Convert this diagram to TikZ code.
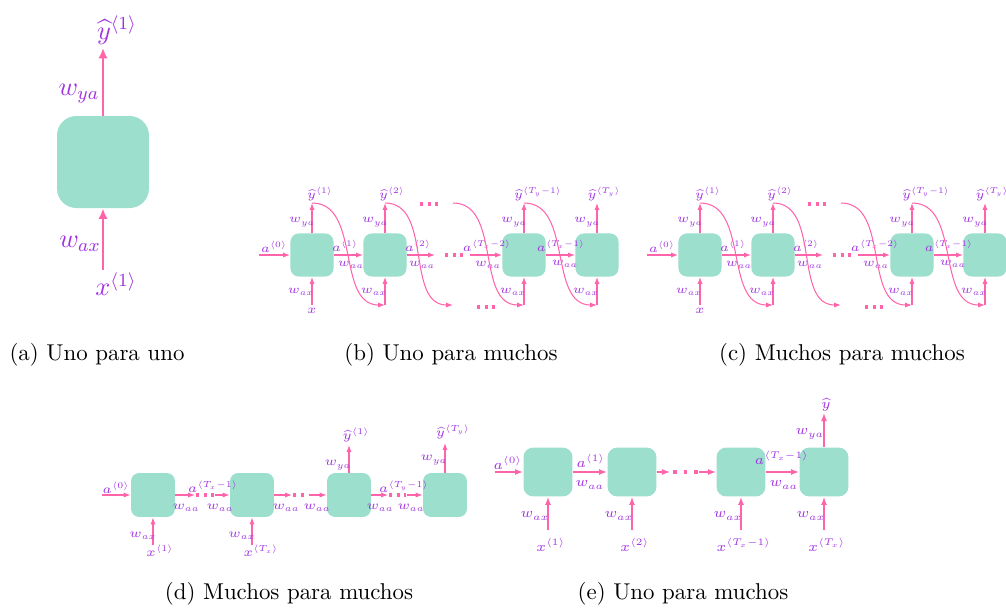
\documentclass[tikz,border=0pt]{standalone}
\usepackage{fix-cm}
\usepackage{amsmath}
\usetikzlibrary{arrows.meta}
\definecolor{celda}{RGB}{155,223,204}
\definecolor{rosa}{RGB}{255,100,170}
\definecolor{lila}{RGB}{160,50,225}
\tikzset{
  rnn/.style={fill=celda, rounded corners=3.6pt, minimum size=18.8pt, inner sep=0pt},
  flecha/.style={draw=rosa, line width=0.45pt, -{Latex[length=3pt,width=2.2pt]}},
  puntos/.style={draw=rosa, line width=1.4pt, dash pattern=on 1.4pt off 1.9pt},
  etq/.style={text=lila, inner sep=0pt},
  pie/.style={inner sep=0pt, font=\fontsize{10}{12}\selectfont}
}
\begin{document}
\begin{tikzpicture}[x=0.437pt, y=-0.437pt]
\useasboundingbox (0,0) rectangle (1006,609);

% (a) uno para uno
\begin{scope}[etq/.append style={font=\fontsize{11.5}{13}\selectfont},
  flecha/.append style={line width=0.9pt, -{Latex[length=4.5pt,width=4pt]}}]
  \node[rnn, minimum size=40.2pt, rounded corners=8.5pt] (ca) at (103,162) {};
  \node[etq] (ya) at (117,30) {$\widehat{y}^{\langle 1\rangle}$};
  \node[etq] (wya) at (79,94) {$w_{ya}$};
  \node[etq] (wax) at (80,244) {$w_{ax}$};
  \node[etq] (xa) at (116,284) {$x^{\langle 1\rangle}$};
  \coordinate (ca-out) at (103,48);
  \coordinate (ca-in) at (103,270);
  \draw[flecha] (ca.north) -- (ca-out);
  \draw[flecha] (ca-in) -- (ca.south);
\end{scope}
\node[pie] (pa) at (97,355) {(a) Uno para uno};

% (b) y (c) uno/muchos para muchos
\foreach \p/\dx in {b/0, c/388}{
\begin{scope}[shift={(\dx,0)}, etq/.append style={font=\fontsize{5.3}{6}\selectfont}]
  % celdas con entrada y salida
  \foreach \i/\cx in {1/312, 2/385, 3/524, 4/597}{
    \node[rnn] (\p\i) at (\cx,255) {};
    \coordinate (\p\i-out) at (\cx,203);
    \coordinate (\p\i-in) at (\cx,305);
    \draw[flecha] (\p\i.north) -- (\p\i-out);
    \draw[flecha] (\p\i-in) -- (\p\i.south);
    \node[etq] (\p\i-wya) at (\cx-10,222) {$w_{ya}$};
    \node[etq] (\p\i-wax) at (\cx-11,292) {$w_{ax}$};
  }
  \node[etq] (\p-y1) at (320,194) {$\widehat{y}^{\langle 1\rangle}$};
  \node[etq] (\p-y2) at (392,194) {$\widehat{y}^{\langle 2\rangle}$};
  \node[etq] (\p-y3) at (538,194) {$\widehat{y}^{\langle T_y-1\rangle}$};
  \node[etq] (\p-y4) at (604,194) {$\widehat{y}^{\langle T_y\rangle}$};
  \node[etq] (\p-x) at (312,311) {$x$};
  % activaciones
  \coordinate (\p-a0) at (259,255);
  \coordinate (\p-s2) at (435,255);
  \coordinate (\p-e3) at (470,255);
  \draw[flecha] (\p-a0) -- (\p1.west);
  \draw[flecha] (\p1.east) -- (\p2.west);
  \draw[flecha] (\p2.east) -- (\p-s2);
  \draw[flecha] (\p-e3) -- (\p3.west);
  \draw[flecha] (\p3.east) -- (\p4.west);
  \draw[puntos] (445,255) -- (463,255);
  \node[etq] (\p-a0l) at (274,247) {$a^{\langle 0\rangle}$};
  \node[etq] (\p-a1l) at (345,246) {$a^{\langle 1\rangle}$};
  \node[etq] (\p-w1l) at (351,265) {$w_{aa}$};
  \node[etq] (\p-a2l) at (418,246) {$a^{\langle 2\rangle}$};
  \node[etq] (\p-w2l) at (422,265) {$w_{aa}$};
  \node[etq] (\p-a3l) at (487,246) {$a^{\langle T_x-2\rangle}$};
  \node[etq] (\p-w3l) at (488,265) {$w_{aa}$};
  \node[etq] (\p-a4l) at (561,246) {$a^{\langle T_x-1\rangle}$};
  \node[etq] (\p-w4l) at (565,264) {$w_{aa}$};
  % salidas que vuelven como entradas
  \coordinate (\p-c2) at (453,305);
  \coordinate (\p-c3) at (453,203);
  \draw[flecha] (\p1-out) to[out=0,in=180] (\p2-in);
  \draw[flecha] (\p2-out) to[out=0,in=180] (\p-c2);
  \draw[flecha] (\p-c3) to[out=0,in=180] (\p3-in);
  \draw[flecha] (\p3-out) to[out=0,in=180] (\p4-in);
  \draw[puntos] (420,204) -- (438,204);
  \draw[puntos] (477,307) -- (495,307);
\end{scope}
}
\node[pie] (pb) at (451,355) {(b) Uno para muchos};
\node[pie] (pc) at (842,355) {(c) Muchos para muchos};

% (d) muchos para muchos
\begin{scope}[etq/.append style={font=\fontsize{5.5}{6.5}\selectfont}]
  \foreach \i/\cx in {1/153, 2/252, 3/349, 4/445}
    \node[rnn, minimum size=19.2pt] (d\i) at (\cx,495) {};
  \coordinate (d-a0) at (102,495);
  \draw[flecha] (d-a0) -- (d1.west);
  \foreach \i/\j/\s/\e in {1/2/195/215, 2/3/292/309, 3/4/388/407}{
    \coordinate (d\i-s) at (\s,495);
    \coordinate (d\j-e) at (\e,495);
    \draw[flecha] (d\i.east) -- (d\i-s);
    \draw[puntos] (\s+1,495) -- (\e-1,495);
    \draw[flecha] (d\j-e) -- (d\j.west);
  }
  \node[etq] (d-a0l) at (116,488) {$a^{\langle 0\rangle}$};
  \node[etq] (d-a1l) at (213,487) {$a^{\langle T_x-1\rangle}$};
  \node[etq] (d-a3l) at (404,487) {$a^{\langle T_y-1\rangle}$};
  \foreach \wx [count=\k] in {186, 220, 286, 317, 380, 411}
    \node[etq] (d-w\k) at (\wx,508) {$w_{aa}$};
  % entradas
  \coordinate (d1-in) at (153,545);
  \coordinate (d2-in) at (252,545);
  \draw[flecha] (d1-in) -- (d1.south);
  \draw[flecha] (d2-in) -- (d2.south);
  \node[etq] (d-x1) at (160,551) {$x^{\langle 1\rangle}$};
  \node[etq] (d-x2) at (261,551) {$x^{\langle T_x\rangle}$};
  \node[etq] (d-wx1) at (143,536) {$w_{ax}$};
  \node[etq] (d-wx2) at (242,536) {$w_{ax}$};
  % salidas
  \coordinate (d3-out) at (349,445);
  \coordinate (d4-out) at (445,443);
  \draw[flecha] (d3.north) -- (d3-out);
  \draw[flecha] (d4.north) -- (d4-out);
  \node[etq] (d-y1) at (356,435) {$\widehat{y}^{\langle 1\rangle}$};
  \node[etq] (d-y2) at (453,432) {$\widehat{y}^{\langle T_y\rangle}$};
  \node[etq] (d-wy1) at (338,465) {$w_{ya}$};
  \node[etq] (d-wy2) at (434,460) {$w_{ya}$};
\end{scope}
\node[pie] (pd) at (289,594) {(d) Muchos para muchos};

% (e) uno para muchos
\begin{scope}[etq/.append style={font=\fontsize{6.1}{7}\selectfont},
  flecha/.append style={line width=0.57pt, -{Latex[length=3.5pt,width=2.6pt]}},
  puntos/.append style={line width=1.7pt, dash pattern=on 1.7pt off 2.9pt}]
  \foreach \i/\cx/\xl in {1/548/{x^{\langle 1\rangle}}, 2/632/{x^{\langle 2\rangle}},
      3/741/{x^{\langle T_x-1\rangle}}, 4/824/{x^{\langle T_x\rangle}}}{
    \node[rnn, minimum size=21.4pt, rounded corners=4.3pt] (e\i) at (\cx,472) {};
    \coordinate (e\i-in) at (\cx,530);
    \draw[flecha] (e\i-in) -- (e\i.south);
    \node[etq] (e\i-wax) at (\cx-13,516) {$w_{ax}$};
    \node[etq] (e\i-x) at (\cx+3,545) {$\xl$};
  }
  \coordinate (e-a0) at (495,472);
  \coordinate (e-s2) at (670,472);
  \coordinate (e-e3) at (699,472);
  \draw[flecha] (e-a0) -- (e1.west);
  \draw[flecha] (e1.east) -- (e2.west);
  \draw[flecha] (e2.east) -- (e-s2);
  \draw[puntos] (673,472) -- (698,472);
  \draw[flecha] (e-e3) -- (e3.west);
  \draw[flecha] (e3.east) -- (e4.west);
  \node[etq] (e-a0l) at (508,463) {$a^{\langle 0\rangle}$};
  \node[etq] (e-a1l) at (591,461) {$a^{\langle 1\rangle}$};
  \node[etq] (e-w1l) at (590,485) {$w_{aa}$};
  \node[etq] (e-a3l) at (782,458) {$a^{\langle T_x-1\rangle}$};
  \node[etq] (e-w3l) at (784,485) {$w_{aa}$};
  % salida
  \coordinate (e4-out) at (824,413);
  \draw[flecha] (e4.north) -- (e4-out);
  \node[etq] (e-y) at (826,405) {$\widehat{y}$};
  \node[etq] (e-wy) at (810,434) {$w_{ya}$};
\end{scope}
\node[pie] (pe) at (683,594) {(e) Uno para muchos};
\end{tikzpicture}
\end{document}
